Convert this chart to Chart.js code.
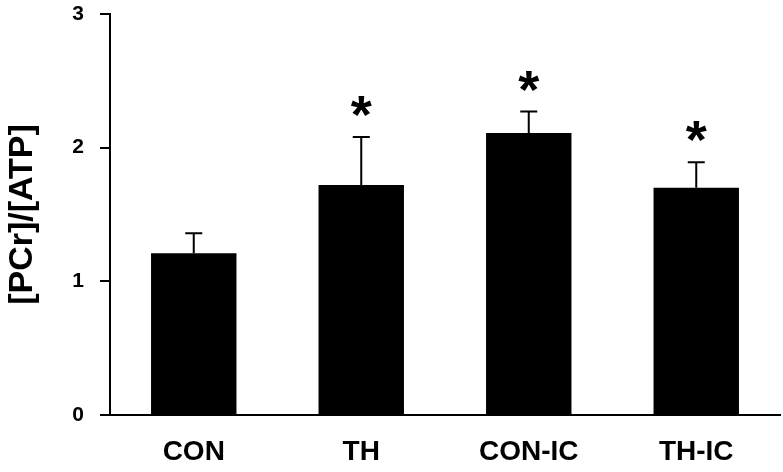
<!DOCTYPE html>
<html>
<head>
<meta charset="utf-8">
<script src="https://cdn.jsdelivr.net/npm/chart.js@4.4.0/dist/chart.umd.min.js"></script>
<style>
  html, body { margin: 0; padding: 0; background: #fff; }
  #wrap { width: 783px; height: 472px; }
</style>
</head>
<body>
<div id="wrap"><canvas id="pcrChart"></canvas></div>
<script>
// data
const groups = ["CON", "TH", "CON-IC", "TH-IC"];
const ratioMean = [1.21, 1.72, 2.11, 1.70];
const ratioErr = [0.15, 0.36, 0.16, 0.19];   // upper error only
const marks = ["", "*", "*", "*"];
const yTicks = [0, 1, 2, 3];

// error bars + significance stars
const errorBars = {
    id: 'errorBars',
    afterDatasetsDraw(chart) {
        const ctx = chart.ctx;
        const x = chart.scales.x, y = chart.scales.y;
        ctx.save();
        ctx.strokeStyle = '#000';
        ctx.lineWidth = 2;
        groups.forEach((g, i) => {
            const cx = x.getPixelForValue(i);
            const yTop = y.getPixelForValue(ratioMean[i] + ratioErr[i]);
            const yBar = y.getPixelForValue(ratioMean[i]);
            ctx.beginPath();
            ctx.moveTo(cx, yBar);
            ctx.lineTo(cx, yTop);
            ctx.moveTo(cx - 8.5, yTop);
            ctx.lineTo(cx + 8.5, yTop);
            ctx.stroke();
            if (marks[i]) {
                ctx.fillStyle = '#000';
                ctx.font = 'bold 54px "Liberation Sans", Arial, sans-serif';
                ctx.textAlign = 'center';
                ctx.textBaseline = 'alphabetic';
                ctx.fillText(marks[i], cx, yTop - 4);
            }
        });
        ctx.restore();
    }
};

const ctx = document.getElementById('pcrChart').getContext('2d');
new Chart(ctx, {
    type: 'bar',
    data: {
        labels: groups,
        datasets: [{
            data: ratioMean,
            backgroundColor: '#000',
            borderWidth: 0,
            barPercentage: 0.51,
            categoryPercentage: 1.0
        }]
    },
    options: {
        responsive: true,
        maintainAspectRatio: false,
        animation: false,
        layout: { padding: { left: 2, right: 3, top: 14, bottom: 0 } },
        plugins: { legend: { display: false }, tooltip: { enabled: false } },
        scales: {
            x: {
                grid: { display: false, drawTicks: false },
                border: { color: '#000', width: 2 },
                ticks: {
                    color: '#000',
                    padding: 20,
                    font: { family: '"Liberation Sans", Arial', size: 28, weight: 'bold' }
                },
                afterFit(scale) { scale.height = 57; scale.paddingLeft = 0; scale.paddingRight = 0; }
            },
            y: {
                min: 0, max: 3,
                afterBuildTicks(scale) { scale.ticks = yTicks.map(v => ({ value: v })); },
                grid: { drawOnChartArea: false, color: '#000', lineWidth: 2, tickLength: 10 },
                border: { color: '#000', width: 2 },
                ticks: {
                    color: '#000',
                    padding: 16,
                    font: { family: '"Liberation Sans", Arial', size: 21, weight: 'bold' }
                },
                title: {
                    display: true,
                    text: '[PCr]/[ATP]',
                    color: '#000',
                    padding: { top: 0, bottom: 0 },
                    font: { family: '"Liberation Sans", Arial', size: 34, weight: 'bold' }
                },
                afterFit(scale) { scale.width = 108; scale.paddingTop = 0; scale.paddingBottom = 0; }
            }
        }
    },
    plugins: [errorBars]
});
</script>
</body>
</html>
